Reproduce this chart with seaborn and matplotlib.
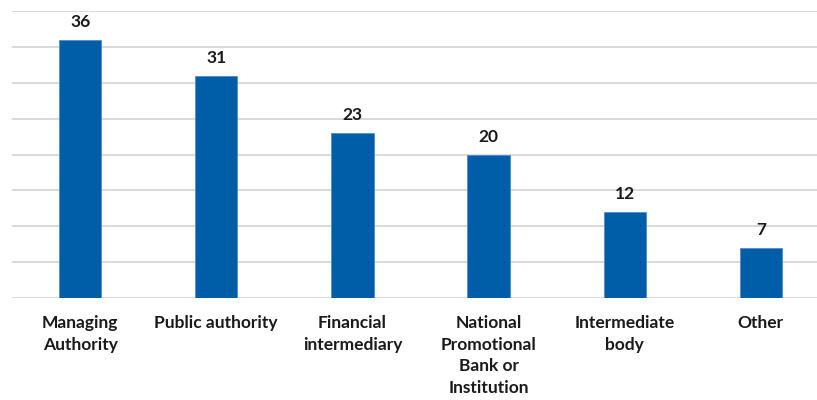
import matplotlib
matplotlib.use("Agg")
import matplotlib.pyplot as plt
import seaborn as sns
import pandas as pd

categories = [
    "Managing\nAuthority",
    "Public authority",
    "Financial\nintermediary",
    "National\nPromotional\nBank or\nInstitution",
    "Intermediate\nbody",
    "Other",
]
counts = [36, 31, 23, 20, 12, 7]
grid_ticks = [0, 5, 10, 15, 20, 25, 30, 35, 40]

df = pd.DataFrame({"category": categories, "count": counts})

sns.set_theme(style="white")
plt.rcParams["font.family"] = ["Lato", "DejaVu Sans"]

W, H = 817, 400
fig = plt.figure(figsize=(W / 100, H / 100), dpi=100)
ax = fig.add_axes([12 / W, (H - 298) / H, 817 / W, 287 / H])

sns.barplot(data=df, x="category", y="count", color="#005DA8",
            width=0.31, saturation=1, edgecolor="#4F8FCB", linewidth=0.6,
            ax=ax, zorder=3)

ax.set_ylim(0, 40)
ax.set_xlim(-0.5, len(categories) - 0.5)
ax.set_yticks(grid_ticks)
ax.set_yticklabels([])
ax.tick_params(axis="y", length=0)
ax.tick_params(axis="x", length=0, pad=12)
ax.grid(axis="y", color="#D9D9D9", linewidth=1.4, zorder=0)
ax.set_axisbelow(True)
for s in ax.spines.values():
    s.set_visible(False)
ax.set_xlabel("")
ax.set_ylabel("")

for lbl in ax.get_xticklabels():
    lbl.set_fontsize(12.5)
    lbl.set_fontweight("bold")
    lbl.set_color("#1a1a1a")
    lbl.set_linespacing(1.45)
    lbl.set_verticalalignment("top")

for c in ax.containers:
    ax.bar_label(c, labels=[str(v) for v in counts], padding=7,
                 fontsize=12.5, fontweight="bold", color="#1a1a1a")

fig.savefig("out.png", dpi=100)
